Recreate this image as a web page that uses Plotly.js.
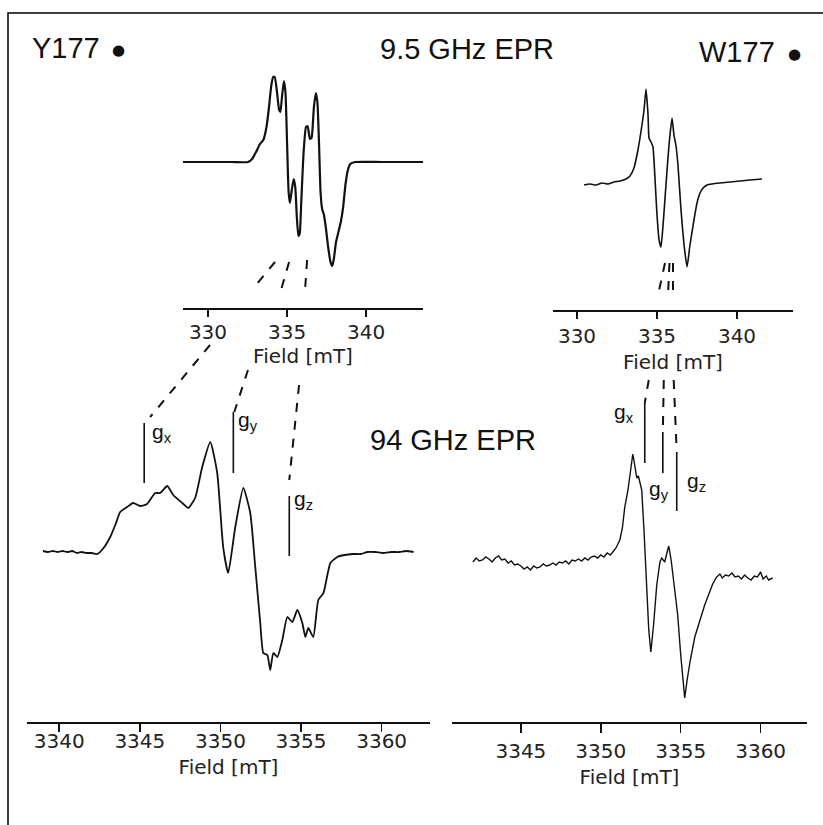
<!DOCTYPE html>
<html>
<head>
<meta charset="utf-8">
<script src="https://cdn.plot.ly/plotly-3.0.1.min.js"></script>
<style>html,body{margin:0;padding:0;background:#fff;}#chart{width:823px;height:825px;}</style>
</head>
<body>
<div id="chart"></div>
<script>
// ---------- DATA ----------
// Y177 radical, 9.5 GHz EPR (field in mT, derivative signal in arbitrary units)
const y177XField = [328.42,330.0,331.5,332.53,332.79,333.04,333.29,333.5,333.7,333.86,334.0,334.12,334.22,334.35,334.5,334.58,334.68,334.8,334.9,335.0,335.1,335.18,335.3,335.42,335.52,335.62,335.72,335.8,335.9,336.05,336.2,336.3,336.45,336.55,336.7,336.82,336.92,337.02,337.12,337.22,337.32,337.45,337.6,337.75,337.85,337.95,338.1,338.25,338.4,338.55,338.7,338.85,339.0,339.3,341.0,343.61];
const y177XSignal = [0,0,0,0,3,10,18,22,35,55,76,85,85,72,52,50,65,81,70,20,-30,-41,-28,-17,-25,-55,-74,-72,-40,10,35,36,23,24,55,69,60,20,-30,-47,-52,-65,-85,-100,-104,-98,-80,-70,-60,-45,-22,-8,-2,0,0,0];

// W177 radical, 9.5 GHz EPR
const w177XField = [330.44,330.81,331.19,331.56,331.94,332.31,332.69,333.06,333.31,333.56,333.81,334.06,334.19,334.31,334.44,334.5,334.63,334.75,334.88,335.0,335.13,335.25,335.38,335.56,335.75,335.94,336.06,336.19,336.31,336.5,336.69,336.88,337.06,337.31,337.5,337.69,337.88,338.13,338.44,338.94,339.56,340.19,340.81,341.56];
const w177XSignal = [0,1,0,2,1,3,4,6,9,17,35,60,75,96,70,47,43,38,5,-30,-55,-62,-40,0,40,67,50,39,20,-25,-60,-82,-60,-35,-18,-8,-3,0,1,2,3,4,5,6];

// Y177 radical, 94 GHz EPR
const y177WField = [3338.99,3339.3,3339.6,3339.9,3340.2,3340.5,3340.8,3341.1,3341.4,3341.7,3342.0,3342.35,3342.75,3343.16,3343.5,3343.78,3344.21,3344.58,3345.02,3345.45,3345.95,3346.26,3346.7,3347.07,3347.63,3348.0,3348.43,3348.87,3349.37,3349.8,3350.17,3350.48,3350.92,3351.42,3351.85,3352.16,3352.47,3352.66,3352.91,3353.09,3353.28,3353.53,3353.84,3354.15,3354.46,3354.77,3355.08,3355.27,3355.45,3355.76,3356.07,3356.39,3356.82,3357.25,3357.7,3358.2,3358.7,3359.12,3359.6,3360.1,3360.6,3361.1,3361.5,3361.98];
const y177WSignal = [1,0,1,0,1,0,1,-1,0,-1,-1,-2,4,15,28,40,45,49,46,48,59,59,66,57,49,44,54,85,110,79,5,-21,25,64,39,-15,-71,-101,-103,-118,-101,-105,-88,-65,-70,-58,-71,-85,-76,-85,-48,-41,-11,-5,-3,-2,-2,0,0,-1,0,0,1,0];

// W177 radical, 94 GHz EPR
const w177WField = [3342.0,3342.2,3342.4,3342.6,3342.8,3343.0,3343.2,3343.4,3343.6,3343.8,3344.0,3344.2,3344.4,3344.6,3344.8,3345.0,3345.2,3345.4,3345.6,3345.8,3346.0,3346.2,3346.4,3346.6,3346.8,3347.0,3347.2,3347.4,3347.6,3347.8,3348.0,3348.2,3348.4,3348.6,3348.8,3349.0,3349.2,3349.4,3349.6,3349.8,3350.0,3350.2,3350.4,3350.6,3350.75,3350.95,3351.19,3351.35,3351.5,3351.7,3351.85,3352.0,3352.12,3352.25,3352.35,3352.45,3352.56,3352.7,3352.85,3353.0,3353.13,3353.3,3353.5,3353.7,3353.81,3354.0,3354.15,3354.25,3354.4,3354.6,3354.81,3355.0,3355.15,3355.25,3355.4,3355.6,3355.88,3356.1,3356.3,3356.5,3356.69,3356.85,3357.0,3357.25,3357.45,3357.6,3357.8,3358.0,3358.2,3358.4,3358.6,3358.8,3359.0,3359.2,3359.4,3359.6,3359.8,3360.0,3360.15,3360.35,3360.5,3360.75];
const w177WSignal = [-2,2,-1,0,3,1,-2,2,4,0,1,-3,-1,-5,-4,-6,-9,-7,-10,-6,-8,-7,-4,-6,-5,-3,-5,-2,-3,-1,-4,0,-1,1,-1,2,0,3,4,2,5,3,7,5,8,12,20,32,53,70,88,106,95,82,84,78,70,30,-20,-70,-92,-65,-25,-2,2,-2,8,14,0,-25,-55,-95,-125,-138,-120,-100,-77,-65,-55,-45,-37,-30,-24,-17,-14,-18,-15,-16,-13,-17,-16,-19,-15,-18,-20,-16,-17,-12,-19,-16,-20,-18];

// g-tensor principal values (field positions, mT) at 94 GHz
const gLabels = ["x","y","z"];
const y177GField = [3345.27,3350.80,3354.27];
const w177GField = [3352.75,3353.88,3354.75];

// ---------- LAYOUT GEOMETRY ----------
const W = 823, H = 825;
const px = v => v / W, py = v => 1 - v / H;
const panels = {
  TL:{xa:'xaxis', ya:'yaxis', xd:[px(183),px(423)], xr:[328.42,343.6], yd:[py(308),py(60)], yr:[-146,102]},
  TR:{xa:'xaxis2',ya:'yaxis2',xd:[px(553),px(793)], xr:[328.5,343.5], yd:[py(310),py(60)], yr:[-125,125]},
  BL:{xa:'xaxis3',ya:'yaxis3',xd:[px(27),px(430)], xr:[3338,3363], yd:[py(722),py(370)], yr:[-170,182]},
  BR:{xa:'xaxis4',ya:'yaxis4',xd:[px(452),px(807)], xr:[3340.69,3362.9], yd:[py(722),py(370)], yr:[-162,190]}
};
function toPaper(p, x, y){
  const P = panels[p];
  return [P.xd[0] + (x-P.xr[0])/(P.xr[1]-P.xr[0])*(P.xd[1]-P.xd[0]),
          P.yd[0] + (y-P.yr[0])/(P.yr[1]-P.yr[0])*(P.yd[1]-P.yd[0])];
}

const lineStyle = (w,s)=>({color:'#111', width:w, shape:'spline', smoothing:s});
const traces = [
  {x:y177XField, y:y177XSignal, xaxis:'x',  yaxis:'y',  mode:'lines', line:lineStyle(2.2,0.5), hoverinfo:'skip'},
  {x:w177XField, y:w177XSignal, xaxis:'x2', yaxis:'y2', mode:'lines', line:lineStyle(1.6,0.4), hoverinfo:'skip'},
  {x:y177WField, y:y177WSignal, xaxis:'x3', yaxis:'y3', mode:'lines', line:lineStyle(1.8,0.5), hoverinfo:'skip'},
  {x:w177WField, y:w177WSignal, xaxis:'x4', yaxis:'y4', mode:'lines', line:{color:'#111', width:1.4}, hoverinfo:'skip'}
];

// g marker bars (top, bottom signal levels of each bar)
const yBarSpan = [[129,69],[140,79],[56,-4]];
const wBarSpan = [[157,97],[128,87],[108,49]];
y177GField.forEach((f,i)=>traces.push({x:[f,f], y:yBarSpan[i], xaxis:'x3', yaxis:'y3', mode:'lines', line:{color:'#111',width:1.6}, hoverinfo:'skip'}));
w177GField.forEach((f,i)=>traces.push({x:[f,f], y:wBarSpan[i], xaxis:'x4', yaxis:'y4', mode:'lines', line:{color:'#111',width:1.6}, hoverinfo:'skip'}));

// dashed correlation lines: [panelA, xA, yA, panelB, xB, yB]
const connectors = [
  ['TL',334.24,-100,'TL',332.98,-124],
  ['TL',335.13,-100,'TL',334.62,-128],
  ['TL',336.27,-98,'TL',336.14,-128],
  ['TL',330.13,-183,'BL',3345.64,135],
  ['TL',332.53,-208,'BL',3350.86,140],
  ['TL',335.76,-223,'BL',3354.27,72],
  ['TR',335.5,-78,'TR',335.12,-106],
  ['TR',335.78,-78,'TR',335.7,-106],
  ['TR',336.0,-78,'TR',336.0,-106],
  ['BR',3353.0,180,'BR',3352.75,157],
  ['BR',3353.94,180,'BR',3353.88,128],
  ['BR',3354.56,180,'BR',3354.75,108]
];
const shapes = connectors.map(c=>{
  const a = toPaper(c[0],c[1],c[2]), b = toPaper(c[3],c[4],c[5]);
  return {type:'line', xref:'paper', yref:'paper', x0:a[0], y0:a[1], x1:b[0], y1:b[1], line:{color:'#111', width:2, dash:'dash'}};
});
// frame
shapes.push({type:'rect', xref:'paper', yref:'paper', x0:px(8), y0:py(840), x1:px(840), y1:py(13), line:{color:'#000', width:1.5}});

const tickFont = {family:'DejaVu Sans, sans-serif', size:20, color:'#222'};
function xAxis(p, ticklen, lab, standoff){
  const P = panels[p];
  return {domain:P.xd, range:P.xr, autorange:false, anchor:P.ya.replace('axis',''), showline:true, linewidth:2, linecolor:'#111',
    ticks:'outside', ticklen:ticklen, tickwidth:1.5, tickcolor:'#111', dtick:5, tick0:0, showgrid:false, zeroline:false,
    tickfont:tickFont, ticklabelstandoff:lab, title:{text:'Field [mT]', font:tickFont, standoff:standoff}, fixedrange:true};
}
function yAxis(p){
  const P = panels[p];
  return {domain:P.yd, range:P.yr, autorange:false, visible:false, anchor:P.xa.replace('axis',''), fixedrange:true};
}

const bigFont = {family:'Liberation Sans, Arial, sans-serif', size:29, color:'#111'};
const dotFont = {family:'DejaVu Sans, sans-serif', size:15, color:'#111'};
const gFont = {family:'Liberation Sans, Arial, sans-serif', size:21, color:'#111'};
const ann = (t,x,y,f,xa)=>({text:t, xref:'paper', yref:'paper', x:px(x), y:py(y), xanchor:xa||'center', yanchor:'middle', showarrow:false, font:f});
const annotations = [
  ann("Y177", 30, 48, bigFont, 'left'),
  ann("●", 118, 50, dotFont),
  ann("9.5 GHz EPR", 467, 49, bigFont),
  ann("W177", 697, 52, bigFont, 'left'),
  ann("●", 794, 54, dotFont),
  ann("94 GHz EPR", 453, 440, bigFont)
];
// g labels next to bars
const yLabelPos = [[150,433],[236,421],[292,500]];
const wLabelPos = [[612,413],[647,490],[685,482]];
gLabels.forEach((g,i)=>{
  annotations.push(ann('g<sub>'+g+'</sub>', yLabelPos[i][0], yLabelPos[i][1], gFont, 'left'));
  annotations.push(ann('g<sub>'+g+'</sub>', wLabelPos[i][0], wLabelPos[i][1], gFont, 'left'));
});

const layout = {
  width:W, height:H, margin:{l:0,r:0,t:0,b:0}, paper_bgcolor:'#fff', plot_bgcolor:'rgba(0,0,0,0)', showlegend:false,
  xaxis:xAxis('TL',7,-2,4), yaxis:yAxis('TL'),
  xaxis2:xAxis('TR',7,0,8), yaxis2:yAxis('TR'),
  xaxis3:xAxis('BL',8,-8,8), yaxis3:yAxis('BL'),
  xaxis4:xAxis('BR',9,1,8), yaxis4:yAxis('BR'),
  shapes:shapes, annotations:annotations
};
Plotly.newPlot('chart', traces, layout, {staticPlot:true, displayModeBar:false});
</script>
</body>
</html>
